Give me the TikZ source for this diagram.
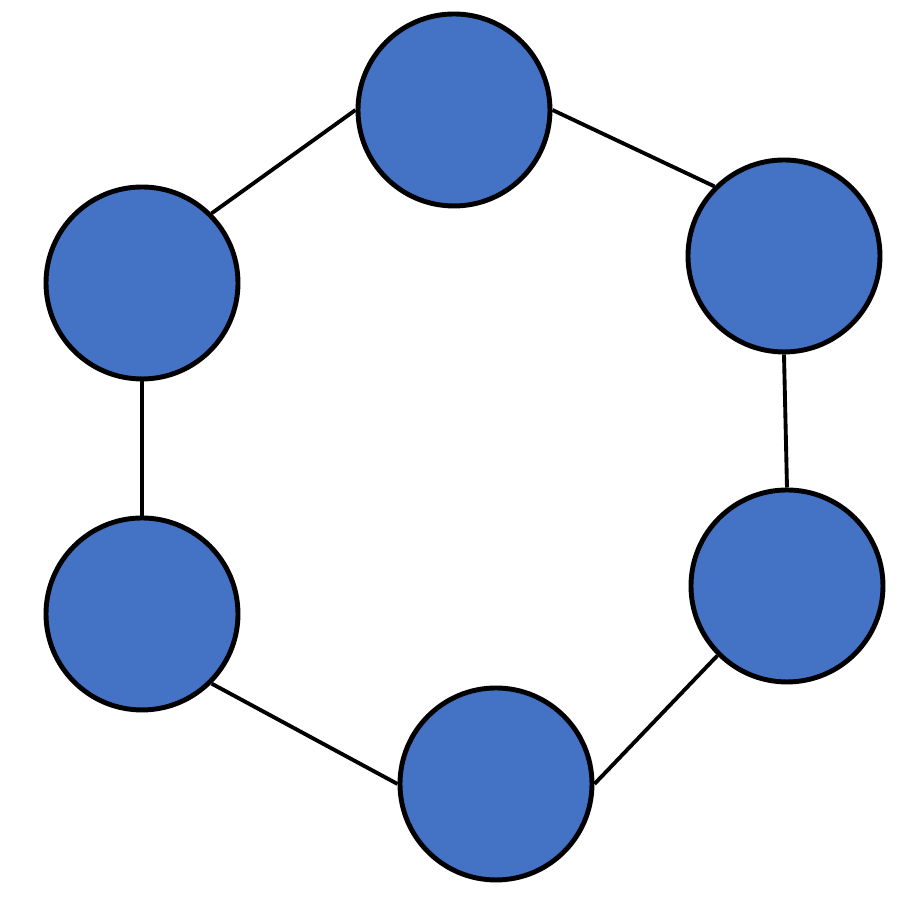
\documentclass[tikz,border=0pt]{standalone}
\definecolor{nodeblue}{HTML}{4472C4}
\tikzset{
  ball/.style={circle, draw=black, fill=nodeblue, line width=1.4pt, minimum size=1.92cm, inner sep=0pt},
  link/.style={draw=black, line width=1.1pt}
}
\begin{document}
\begin{tikzpicture}
\useasboundingbox (0,0) rectangle (9.14,9.10);
\node[ball] (t)  at (4.54,8.00) {};
\node[ball] (lu) at (1.42,6.27) {};
\node[ball] (ru) at (7.84,6.54) {};
\node[ball] (ll) at (1.42,2.96) {};
\node[ball] (rl) at (7.87,3.24) {};
\node[ball] (b)  at (4.96,1.26) {};
\draw[link] (lu.45) -- (t.180);
\draw[link] (t.0) -- (ru.135);
\draw[link] (ru.270) -- (rl.90);
\draw[link] (rl.225) -- (b.0);
\draw[link] (b.180) -- (ll.-45);
\draw[link] (ll.90) -- (lu.270);
\end{tikzpicture}
\end{document}
